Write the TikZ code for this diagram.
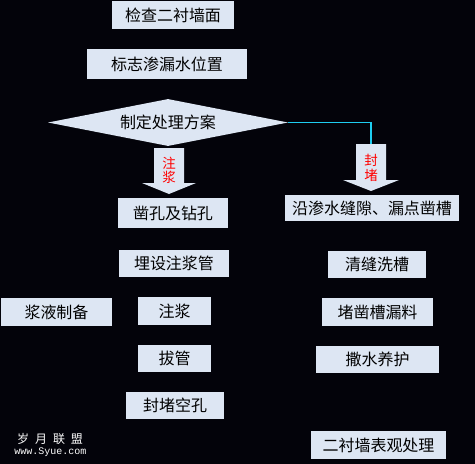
\documentclass[tikz,border=0pt]{standalone}
\usepackage{fontspec}
\setmainfont{Noto Sans CJK SC}
\newfontfamily\monof{Liberation Mono}
\usetikzlibrary{shapes.geometric}
\definecolor{bg}{RGB}{3,3,10}
\definecolor{boxc}{RGB}{221,230,243}
\definecolor{cyanl}{RGB}{30,205,240}
\definecolor{redt}{RGB}{255,0,0}
\begin{document}
\begin{tikzpicture}[x=1pt,y=-1pt,
  box/.style={fill=boxc, draw=none, inner sep=0pt, text=black,
    font=\fontsize{16}{16}\selectfont},
  arrowtxt/.style={text=redt, inner sep=0pt, align=center,
    font=\fontsize{13.5}{14.5}\selectfont},
  blockarrow/.style={fill=boxc, draw=none},
  link/.style={draw=cyanl, line width=1.2pt}]
\fill[bg] (0,0) rectangle (475,464);
\useasboundingbox (0,0) rectangle (475,464);

% main column
\node[box, minimum width=122pt, minimum height=28pt] (b1) at (173,15) {检查二衬墙面};
\node[box, minimum width=160pt, minimum height=30pt] (b2) at (167,64) {标志渗漏水位置};
\node[diamond, aspect=5.1, fill=boxc, inner sep=0pt, minimum width=240pt, minimum height=47pt,
  font=\fontsize{16}{16}\selectfont] (dec) at (168,122.5) {制定处理方案};

% left block arrow
\fill[blockarrow] (154,148) -- (184,148) -- (184,183) -- (196,183) -- (169,194)
  -- (142,183) -- (154,183) -- cycle;
\node[arrowtxt] (lt) at (169,170.5) {注\\浆};

% right block arrow
\coordinate (rtop) at (371,144);
\fill[blockarrow] (356,144) -- (386,144) -- (386,180) -- (399,180) -- (371,191)
  -- (343,180) -- (356,180) -- cycle;
\node[arrowtxt] (rt) at (371,168) {封\\堵};
\draw[link] (dec.east) -| (rtop);

% left branch
\node[box, minimum width=110pt, minimum height=30pt] (l1) at (173,213) {凿孔及钻孔};
\node[box, minimum width=110pt, minimum height=27pt] (l2) at (174,263.5) {埋设注浆管};
\node[box, minimum width=111pt, minimum height=28pt] (prep) at (56.5,312) {浆液制备};
\node[box, minimum width=73pt, minimum height=28pt] (l3) at (174.5,311) {注浆};
\node[box, minimum width=73pt, minimum height=27pt] (l4) at (174.5,358.5) {拔管};
\node[box, minimum width=98pt, minimum height=27pt] (l5) at (175,405.5) {封堵空孔};

% right branch
\node[box, minimum width=174pt, minimum height=26pt] (r1) at (372,208) {沿渗水缝隙、漏点凿槽};
\node[box, minimum width=98pt, minimum height=27pt] (r2) at (377,264.5) {清缝洗槽};
\node[box, minimum width=111pt, minimum height=28pt] (r3) at (377.5,312) {堵凿槽漏料};
\node[box, minimum width=123pt, minimum height=27pt] (r4) at (377.5,359.5) {撒水养护};
\node[box, minimum width=135pt, minimum height=28pt] (r5) at (378.5,445) {二衬墙表观处理};

% watermark
\node[text=white, inner sep=0pt, font=\fontsize{12}{12}\selectfont] (wm1) at (50,438.5)
  {岁\hspace{6pt}月\hspace{6pt}联\hspace{6pt}盟};
\node[text=white, inner sep=0pt, font=\monof\fontsize{10}{10}\selectfont] (wm2) at (50.5,452.5)
  {www.Syue.com};
\end{tikzpicture}
\end{document}
